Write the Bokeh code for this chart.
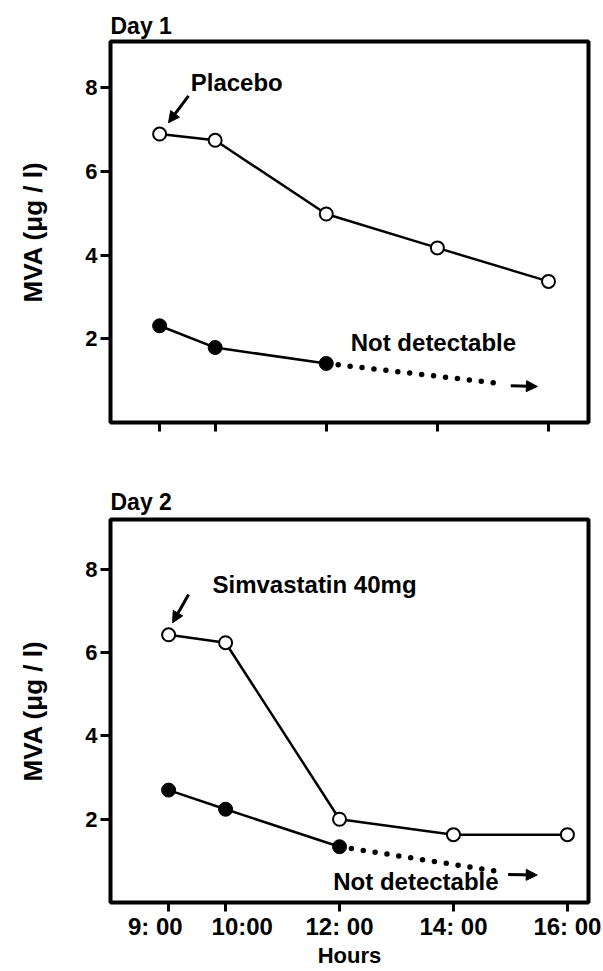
from bokeh.plotting import figure
from bokeh.models import FixedTicker, Range1d, Arrow, NormalHead, Label
from bokeh.layouts import column
from bokeh.embed import file_html
from bokeh.resources import INLINE

# ---- data ----
hours = [9, 10, 12, 14, 16]
hour_labels = ["9: 00", "10:00", "12: 00", "14: 00", "16: 00"]
filled_hours = [9, 10, 12]

day1_open = [6.89, 6.74, 4.98, 4.17, 3.37]
day1_filled = [2.31, 1.79, 1.41]
day2_open = [6.43, 6.24, 2.00, 1.63, 1.63]
day2_filled = [2.70, 2.24, 1.34]

# "not detectable" continuation (dotted) and its arrow
day1_nd_x = [12, 15.15]
day1_nd_y = [1.41, 0.93]
day1_nd_arrow = [15.32, 0.88, 15.80, 0.86]
day2_nd_x = [12, 14.81]
day2_nd_y = [1.34, 0.74]
day2_nd_arrow = [14.96, 0.67, 15.47, 0.66]

# annotation arrows (start x, start y, end x, end y)
day1_label_arrow = [9.52, 7.80, 9.16, 7.16]
day2_label_arrow = [9.35, 7.40, 9.07, 6.72]

yticks = [2, 4, 6, 8]

FONT = "Liberation Sans"
NBSP = "\u00a0"


def make_panel(title, title_standoff, xr, yr, height, border_top, border_bottom, show_xlabels):
    p = figure(width=601, height=height, x_range=Range1d(*xr), y_range=Range1d(*yr),
               output_backend="svg", toolbar_location=None,
               min_border_left=110, min_border_right=13,
               min_border_top=border_top, min_border_bottom=border_bottom)
    p.title.text = title
    p.title.align = "left"
    p.title.text_font = FONT
    p.title.text_font_size = "23px"
    p.title.text_font_style = "bold"
    p.title.text_color = "black"
    p.title.standoff = title_standoff
    p.background_fill_color = "white"
    p.border_fill_color = "white"
    p.outline_line_color = "black"
    p.outline_line_width = 4
    p.xgrid.grid_line_color = None
    p.ygrid.grid_line_color = None

    p.yaxis.ticker = FixedTicker(ticks=yticks)
    p.yaxis.axis_line_color = None
    p.yaxis.major_tick_in = 0
    p.yaxis.major_tick_out = 10
    p.yaxis.major_tick_line_width = 3
    p.yaxis.minor_tick_line_color = None
    p.yaxis.major_label_text_font = FONT
    p.yaxis.major_label_text_font_size = "22px"
    p.yaxis.major_label_text_font_style = "bold"
    p.yaxis.major_label_text_color = "black"
    p.yaxis.major_label_standoff = 3
    p.yaxis.axis_label = "MVA (\u03bcg / l)"
    p.yaxis.axis_label_text_font = FONT
    p.yaxis.axis_label_text_font_size = "26px"
    p.yaxis.axis_label_text_font_style = "bold"
    p.yaxis.axis_label_text_color = "black"
    p.yaxis.axis_label_standoff = 34

    p.xaxis.ticker = FixedTicker(ticks=hours)
    # 9:00 and 10:00 labels are nudged apart in the original
    shown = list(hour_labels)
    shown[0] = shown[0] + NBSP * 4
    shown[1] = NBSP * 5 + shown[1]
    p.xaxis.major_label_overrides = {h: lab for h, lab in zip(hours, shown)}
    p.xaxis.axis_line_color = None
    p.xaxis.major_tick_in = 0
    p.xaxis.major_tick_out = 9
    p.xaxis.major_tick_line_width = 3
    p.xaxis.minor_tick_line_color = None
    p.xaxis.major_label_text_font = FONT
    p.xaxis.major_label_text_font_size = "24px" if show_xlabels else "0px"
    p.xaxis.major_label_text_color = "black" if show_xlabels else None
    p.xaxis.major_label_text_font_style = "bold"
    p.xaxis.major_label_standoff = 1
    if show_xlabels:
        p.xaxis.axis_label = "Hours"
        p.xaxis.axis_label_text_font = FONT
        p.xaxis.axis_label_text_font_size = "22px"
        p.xaxis.axis_label_text_font_style = "bold"
        p.xaxis.axis_label_text_color = "black"
        p.xaxis.axis_label_standoff = 0
    return p


def add_series(p, open_vals, filled_vals, nd_x, nd_y, nd_arrow):
    p.line(hours, open_vals, line_color="black", line_width=2.5)
    p.scatter(hours, open_vals, marker="circle", size=13, fill_color="white",
              line_color="black", line_width=2)
    p.line(nd_x, nd_y, line_color="black", line_width=5.5, line_dash="0 12",
           line_cap="round")
    p.line(filled_hours, filled_vals, line_color="black", line_width=2.5)
    p.scatter(filled_hours, filled_vals, marker="circle", size=14,
              fill_color="black", line_color="black")
    p.add_layout(Arrow(end=NormalHead(size=11, fill_color="black", line_color="black"),
                       x_start=nd_arrow[0], y_start=nd_arrow[1],
                       x_end=nd_arrow[2], y_end=nd_arrow[3],
                       line_width=3, line_color="black"))


def add_text(p, x, y, text, size="24px", align="left"):
    p.add_layout(Label(x=x, y=y, text=text, text_font=FONT, text_font_size=size,
                       text_font_style="bold", text_baseline="middle",
                       text_align=align, text_color="black"))


# ---- Day 1 ----
p1 = make_panel("Day 1", 5, (8.116, 16.72), (0, 9.1), 468, 41, 46, False)
add_series(p1, day1_open, day1_filled, day1_nd_x, day1_nd_y, day1_nd_arrow)
add_text(p1, 9.56, 8.11, "Placebo")
add_text(p1, 12.44, 1.91, "Not detectable")
p1.add_layout(Arrow(end=NormalHead(size=11, fill_color="black", line_color="black"),
                    x_start=day1_label_arrow[0], y_start=day1_label_arrow[1],
                    x_end=day1_label_arrow[2], y_end=day1_label_arrow[3],
                    line_width=3, line_color="black"))

# ---- Day 2 ----
p2 = make_panel("Day 2", 9, (7.98, 16.37), (0, 9.2), 503, 51, 69, True)
add_series(p2, day2_open, day2_filled, day2_nd_x, day2_nd_y, day2_nd_arrow)
add_text(p2, 9.77, 7.64, "Simvastatin 40mg")
add_text(p2, 11.89, 0.50, "Not detectable")
p2.add_layout(Arrow(end=NormalHead(size=11, fill_color="black", line_color="black"),
                    x_start=day2_label_arrow[0], y_start=day2_label_arrow[1],
                    x_end=day2_label_arrow[2], y_end=day2_label_arrow[3],
                    line_width=3, line_color="black"))

layout = column(p1, p2)
open("out.html", "w").write(file_html(layout, INLINE))
